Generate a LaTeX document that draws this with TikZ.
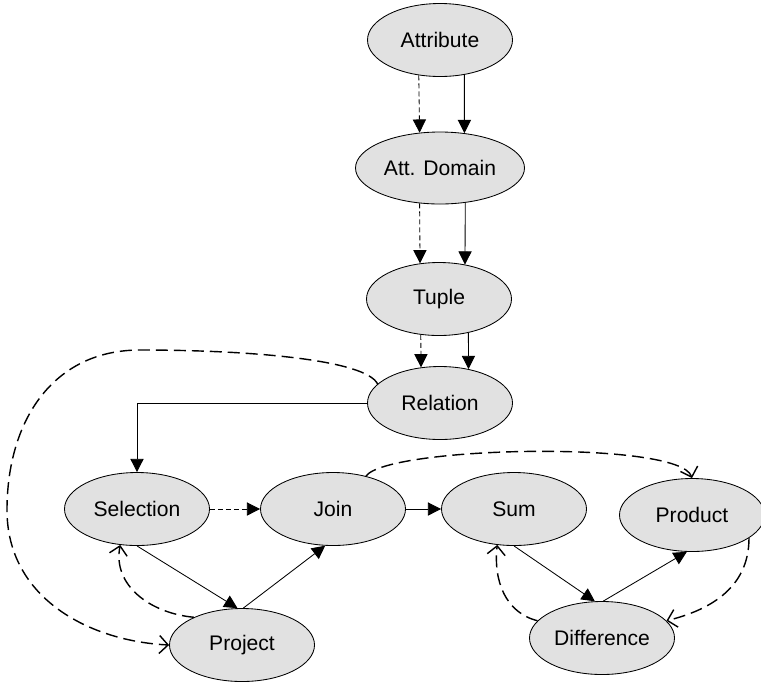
\documentclass[tikz,border=0pt]{standalone}
\usepackage{fontspec}
\setmainfont{Liberation Sans}
\usepackage{tikz}
\usetikzlibrary{positioning}
\usetikzlibrary{shapes}
\usetikzlibrary{arrows.meta}
\definecolor{opfill}{RGB}{225,225,225}

\begin{document}
\begin{tikzpicture}[
		op/.style={ellipse, draw, line width=0.6pt, fill=opfill, inner sep=0pt,
			minimum width=3.625cm, minimum height=1.825cm, font=\fontsize{15}{18}\selectfont},
		solidarr/.style={-{Triangle[length=0.33cm,width=0.33cm]}, line width=0.6pt},
		dasharr/.style={solidarr, dash pattern=on 0.125cm off 0.075cm},
		looparr/.style={-{Straight Barb[length=0.22cm,width=0.45cm]}, line width=1pt,
			dash pattern=on 0.3cm off 0.15cm}
	]
					\useasboundingbox (0,0) rectangle (19.025,-17.075);

					% the chain on top
					\node[op] (attr) at (11,-1) {Attribute};
					\node[op, minimum width=4.225cm, minimum height=1.8cm] (dom) at (11,-4.2) {Att. Domain};
					\node[op] (tuple) at (10.975,-7.475) {Tuple};
					\node[op] (rel) at (11,-10.075) {Relation};

					% the operations
					\node[op] (sel) at (3.425,-12.725) {Selection};
					\node[op] (join) at (8.325,-12.725) {Join};
					\node[op] (sum) at (12.85,-12.725) {Sum};
					\node[op] (prod) at (17.3,-12.875) {Product};
					\node[op] (proj) at (6.05,-16.125) {Project};
					\node[op] (diff) at (15.05,-15.95) {Difference};

					\draw[dasharr] (attr.239) -- (dom.120);
					\draw[solidarr] (attr.-55) -- (dom.55);
					\draw[dasharr] (dom.240) -- (tuple.118);
					\draw[solidarr] (dom.-54) -- (tuple.53);
					\draw[dasharr] (tuple.243) -- (rel.118);
					\draw[solidarr] (tuple.-49) -- (rel.50);

					\draw[solidarr] (rel.west) -| (sel.north);
					\draw[dasharr] (sel.east) -- (join.west);
					\draw[solidarr] (join.east) -- (sum.west);
					\draw[solidarr] (sel.south) -- (proj.97);
					\draw[solidarr] (proj.88) -- (join.258);
					\draw[solidarr] (sum.south) -- (diff.101);
					\draw[solidarr] (diff.88) -- (prod.262);

					% long dashed loops
					\coordinate (topbend) at (3.5,-8.75);
					\coordinate (leftbend) at (0.175,-12.75);
					\draw[looparr] (rel.163) .. controls +(-0.3,0.6) and +(2.8,0) .. (topbend)
						.. controls +(-2.2,0) and +(0,2.2) .. (leftbend)
						.. controls +(0,-2.2) and +(-2,0.1) .. (proj.west);
					\draw[looparr] (join.45) .. controls +(0.55,0.75) and +(-0.3,0.95) .. (prod.north);
					\draw[looparr] (prod.-22) .. controls +(0,-1.3) and +(1.0,0.25) .. (diff.15);
					\draw[looparr] (diff.165) .. controls +(-0.8,0.2) and +(-0.1,-0.9) .. (sum.245);
					\draw[looparr] (proj.150) .. controls +(-1.1,0.1) and +(-0.2,-1.0) .. (sel.245);
\end{tikzpicture}
\end{document}
